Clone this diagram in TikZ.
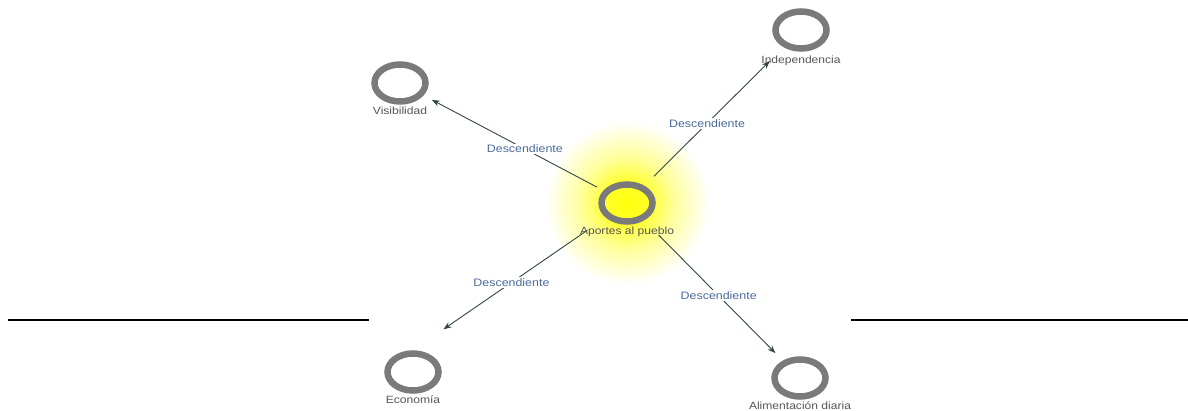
\documentclass[tikz,border=0pt]{standalone}
\usepackage{fontspec}
\setmainfont{Liberation Sans}[FakeStretch=1.15]
\usetikzlibrary{positioning,shapes.geometric,arrows.meta}

\definecolor{anello}{RGB}{122,122,122}
\definecolor{testo}{RGB}{85,85,85}
\definecolor{relaz}{RGB}{75,106,155}
\definecolor{arco}{RGB}{50,70,70}

% Sfumatura dell'alone
\pgfdeclareradialshading{alone}{\pgfpoint{0bp}{0bp}}{%
  color(0bp)=(yellow!95!white); color(6bp)=(yellow!85!white);
  color(14bp)=(yellow!40!white); color(25bp)=(white); color(50bp)=(white)}

\begin{document}
\begin{tikzpicture}[x=1pt, y=1pt, >={Stealth[length=8pt, width=6pt]}]
% Stili dei concetti, delle etichette e delle relazioni
\tikzset{
  concetto/.style={ellipse, draw=anello, line width=6.5pt, minimum width=51pt, minimum height=37pt, inner sep=0pt},
  nome/.style={text=testo, font=\fontsize{10.5}{12}\selectfont, inner sep=1pt},
  rel/.style={text=relaz, fill=white, font=\fontsize{10.8}{12}\selectfont, inner sep=1.5pt},
  arco/.style={->, draw=arco, line width=0.9pt}
}
\useasboundingbox (0,0) rectangle (1188,-411);

% --- ALONE GIALLO ATTORNO AL NODO CENTRALE ---
\shade[shading=alone] (627,-203) circle (82);

% --- CONCETTI ---
\node[concetto] (hub) at (627,-203) {};
\node[concetto] (vis) at (400,-83)  {};
\node[concetto] (ind) at (801,-30)  {};
\node[concetto] (eco) at (413,-372) {};
\node[concetto] (ali) at (800,-378) {};

% Nomi sotto i cerchi
\node[nome, below=1pt of hub] (hubl) {Aportes al pueblo};
\node[nome, below=1pt of vis] (visl) {Visibilidad};
\node[nome, below=3pt of ind] (indl) {Independencia};
\node[nome, below=1pt of eco] (ecol) {Economía};
\node[nome, below=1pt of ali] (alil) {Alimentación diaria};

% --- RELAZIONI ---
\draw[arco, shorten <=34pt, shorten >=36pt] (hub.center) -- node[rel, pos=0.45] {Descendiente} (vis.center);
\draw[arco, shorten <=38pt, shorten >=44pt] (hub.center) -- node[rel, pos=0.46] {Descendiente} (ind.center);
\draw[arco, shorten <=48pt, shorten >=37pt] (hub.center) -- node[rel, pos=0.54] {Descendiente} (eco.north);
\draw[arco, shorten <=45pt, shorten >=35pt] (hub.center) -- node[rel, pos=0.53] {Descendiente} (ali.center);

% Linee orizzontali ai lati
\draw[line width=2.2pt] (8,-320) -- (369,-320);
\draw[line width=2.2pt] (851,-320) -- (1188,-320);

\end{tikzpicture}
\end{document}
